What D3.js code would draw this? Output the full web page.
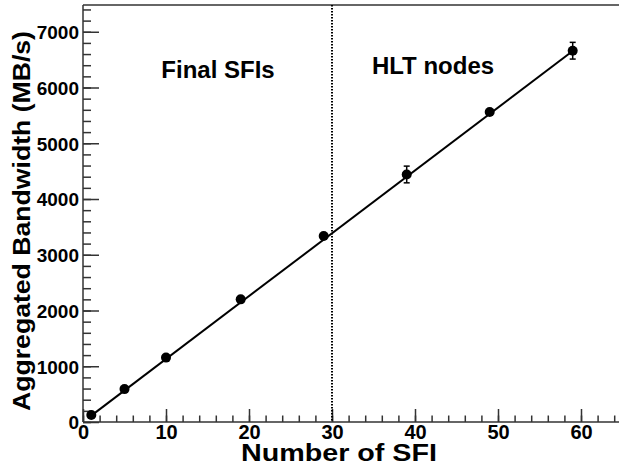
<!DOCTYPE html>
<html>
<head>
<meta charset="utf-8">
<script src="https://cdn.jsdelivr.net/npm/d3@7"></script>
<style>
  body { margin: 0; background: #fff; }
  text { font-family: "Liberation Sans", Arial, Helvetica, sans-serif; font-weight: bold; }
</style>
</head>
<body>
<div id="chart"></div>
<script>
// measured points
const nSFI = [1, 5, 10, 19, 29, 39, 49, 59];
const bandwidth = [125, 590, 1155, 2200, 3335, 4440, 5560, 6660];
const bwError = [0, 0, 0, 0, 0, 150, 0, 150];

// linear fit drawn across the points
const fitX = [1, 59];
const fitY = [115, 6655];

const xTicks = [0, 10, 20, 30, 40, 50, 60];
const yTicks = [0, 1000, 2000, 3000, 4000, 5000, 6000, 7000];
const regionSplit = 30;
const regionLabels = ["Final SFIs", "HLT nodes"];

const width = 619, height = 465;
const plotL = 83, plotB = 422, plotT = 5, plotR = 619;

const svg = d3.select("#chart").append("svg")
    .attr("width", width)
    .attr("height", height);

const x = d3.scaleLinear().domain([0, 65]).range([plotL, plotL + 65 * 8.3]);
const y = d3.scaleLinear().domain([0, 7480]).range([plotB, plotT]);

const axisColor = "#333";

// top frame line
svg.append("line")
    .attr("x1", plotL).attr("x2", plotR)
    .attr("y1", plotT).attr("y2", plotT)
    .attr("stroke", axisColor).attr("stroke-width", 1.5);

// y axis: minor ticks then major ticks with labels
const yMinor = d3.range(0, 7480, 200);
svg.append("g")
    .attr("transform", `translate(${plotL},0)`)
    .call(d3.axisLeft(y).tickValues(yMinor).tickSize(-8).tickSizeOuter(0).tickFormat(""))
    .call(g => g.select(".domain").remove())
    .call(g => g.selectAll("line").attr("stroke", axisColor).attr("stroke-width", 1.5));

svg.append("g")
    .attr("transform", `translate(${plotL},0)`)
    .call(d3.axisLeft(y).tickValues(yTicks).tickSize(-16).tickSizeOuter(0).tickPadding(4).tickFormat(d3.format("d")))
    .call(g => g.select(".domain").attr("d", `M0,${plotB}V${plotT}`).attr("stroke", axisColor).attr("stroke-width", 1.5))
    .call(g => g.selectAll("line").attr("stroke", axisColor).attr("stroke-width", 1.5))
    .call(g => g.selectAll("text")
        .attr("font-size", 19).attr("fill", "#000")
        .attr("dy", "0.36em")
        .attr("font-family", "Liberation Sans, Arial, sans-serif")
        .attr("font-weight", "bold"));

// x axis
const xMinor = d3.range(0, 65, 2);
svg.append("g")
    .attr("transform", `translate(0,${plotB})`)
    .call(d3.axisBottom(x).tickValues(xMinor).tickSize(-6.5).tickSizeOuter(0).tickFormat(""))
    .call(g => g.select(".domain").remove())
    .call(g => g.selectAll("line").attr("stroke", axisColor).attr("stroke-width", 1.5));

svg.append("g")
    .attr("transform", `translate(0,${plotB})`)
    .call(d3.axisBottom(x).tickValues(xTicks).tickSize(-13).tickSizeOuter(0).tickPadding(3).tickFormat(d3.format("d")))
    .call(g => g.select(".domain").attr("d", `M${plotL},0H${plotR}`).attr("stroke", axisColor).attr("stroke-width", 1.5))
    .call(g => g.selectAll("line").attr("stroke", axisColor).attr("stroke-width", 1.5))
    .call(g => g.selectAll("text")
        .attr("font-size", 20).attr("fill", "#000")
        .attr("font-family", "Liberation Sans, Arial, sans-serif")
        .attr("font-weight", "bold"));

// region divider
svg.append("line")
    .attr("x1", x(regionSplit)).attr("x2", x(regionSplit))
    .attr("y1", plotT).attr("y2", plotB)
    .attr("stroke", "#000")
    .attr("stroke-width", 2)
    .attr("stroke-dasharray", "1.5,1.5");

// fit line
const line = d3.line().x(d => x(d[0])).y(d => y(d[1]));
svg.append("path")
    .datum(fitX.map((v, i) => [v, fitY[i]]))
    .attr("d", line)
    .attr("fill", "none")
    .attr("stroke", "#000")
    .attr("stroke-width", 2);

// error bars
const pts = nSFI.map((v, i) => ({ x: v, y: bandwidth[i], e: bwError[i] }));
const eb = svg.append("g");
pts.filter(d => d.e > 0).forEach(d => {
    eb.append("line")
        .attr("x1", x(d.x)).attr("x2", x(d.x))
        .attr("y1", y(d.y - d.e)).attr("y2", y(d.y + d.e))
        .attr("stroke", "#000").attr("stroke-width", 1.5);
    [d.y - d.e, d.y + d.e].forEach(v => {
        eb.append("line")
            .attr("x1", x(d.x) - 3).attr("x2", x(d.x) + 3)
            .attr("y1", y(v)).attr("y2", y(v))
            .attr("stroke", "#000").attr("stroke-width", 1.5);
    });
});

// markers
svg.append("g").selectAll("circle")
    .data(pts)
    .join("circle")
    .attr("cx", d => x(d.x))
    .attr("cy", d => y(d.y))
    .attr("r", 5)
    .attr("fill", "#000");

// region labels
svg.append("text")
    .attr("x", 218).attr("y", 78)
    .attr("text-anchor", "middle")
    .attr("font-size", 24)
    .text(regionLabels[0]);
svg.append("text")
    .attr("x", 433).attr("y", 74)
    .attr("text-anchor", "middle")
    .attr("font-size", 24)
    .text(regionLabels[1]);

// axis titles
svg.append("text")
    .attr("x", 339).attr("y", 461)
    .attr("text-anchor", "middle")
    .attr("font-size", 24)
    .attr("textLength", 196)
    .attr("lengthAdjust", "spacingAndGlyphs")
    .text("Number of SFI");
svg.append("text")
    .attr("transform", `translate(30,221) rotate(-90)`)
    .attr("text-anchor", "middle")
    .attr("font-size", 23)
    .attr("textLength", 380)
    .attr("lengthAdjust", "spacingAndGlyphs")
    .text("Aggregated Bandwidth (MB/s)");
</script>
</body>
</html>
